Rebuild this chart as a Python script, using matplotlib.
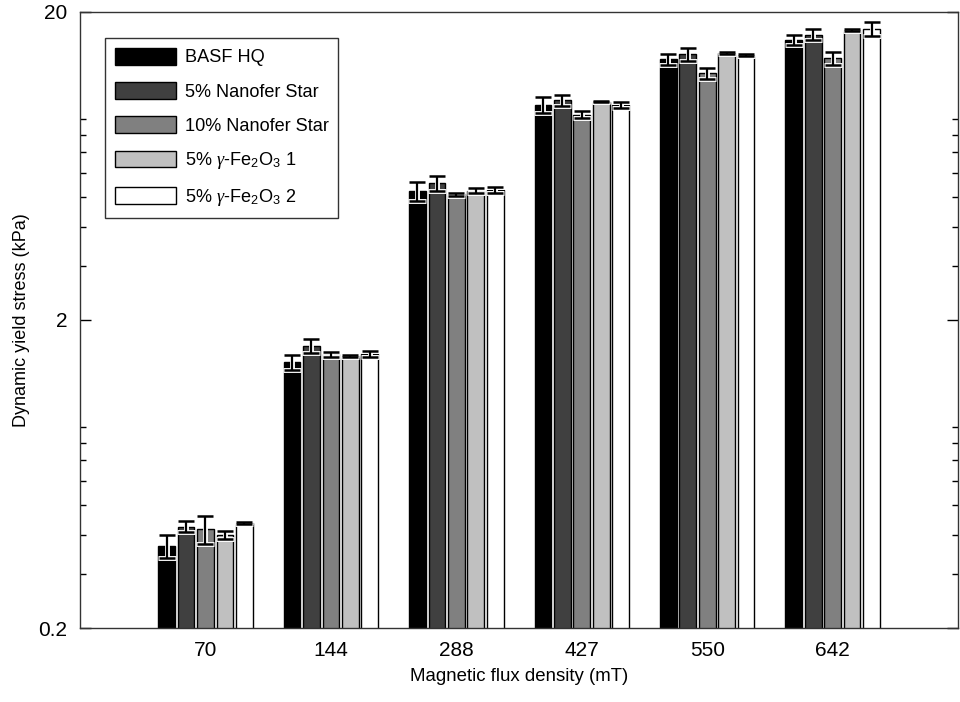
import numpy as np
import matplotlib
matplotlib.use('Agg')
import matplotlib.pyplot as plt
from matplotlib.ticker import LogLocator, FixedLocator, NullFormatter

plt.rcParams['font.family'] = ['Liberation Sans', 'DejaVu Sans']
plt.rcParams['mathtext.fontset'] = 'custom'
plt.rcParams['mathtext.rm'] = 'Liberation Sans'
plt.rcParams['mathtext.it'] = 'Liberation Serif:italic'

# data
flux = ['70', '144', '288', '427', '550', '642']
labels = ['BASF HQ', '5% Nanofer Star', '10% Nanofer Star',
          r'5% $\gamma$-Fe$_2$O$_3$ 1', r'5% $\gamma$-Fe$_2$O$_3$ 2']

basf = [0.37, 1.46, 5.24, 9.99, 14.04, 16.23]
nano5 = [0.427, 1.65, 5.56, 10.32, 14.59, 16.88]
nano10 = [0.419, 1.55, 5.11, 9.28, 12.63, 14.18]
gam1 = [0.402, 1.53, 5.25, 10.23, 14.68, 17.48]
gam2 = [0.4375, 1.546, 5.30, 9.95, 14.5, 17.64]

basf_err = [0.032, 0.085, 0.36, 0.58, 0.54, 0.61]
nano5_err = [0.018, 0.085, 0.31, 0.43, 0.72, 0.69]
nano10_err = [0.044, 0.03, 0.07, 0.26, 0.56, 0.68]
gam1_err = [0.012, 0.01, 0.10, 0.05, 0.10, 0.10]
gam2_err = [0.003, 0.035, 0.12, 0.23, 0.08, 0.97]

series = [basf, nano5, nano10, gam1, gam2]
errs = [basf_err, nano5_err, nano10_err, gam1_err, gam2_err]
colors = ['#000000', '#404040', '#808080', '#c0c0c0', '#ffffff']

fig = plt.figure(figsize=(9.6, 7.02), dpi=100)
ax = fig.add_axes([0.0833, 0.1054, 0.9147, 0.8776])

x = np.arange(1, len(flux) + 1)
pitch = 0.155
width = 0.133
for i, (vals, err, c, lab) in enumerate(zip(series, errs, colors, labels)):
    pos = x + (i - 2) * pitch
    ax.bar(pos, vals, width=width, color=c, edgecolor='black', linewidth=1.0,
           label=lab, zorder=2)
    # white halo under the black error bars
    ax.errorbar(pos, vals, yerr=err, fmt='none', ecolor='white', elinewidth=3.5,
                capsize=6.5, capthick=3.5, zorder=3)
    ax.errorbar(pos, vals, yerr=err, fmt='none', ecolor='black', elinewidth=1.6,
                capsize=5.8, capthick=1.8, zorder=4)

ax.set_yscale('log')
ax.set_ylim(0.2, 20)
ax.set_xlim(0, 7)
ax.yaxis.set_major_locator(FixedLocator([0.2, 2, 20]))
ax.set_yticklabels(['0.2', '2', '20'])
ax.yaxis.set_minor_locator(LogLocator(base=10, subs=np.arange(2, 10)))
ax.yaxis.set_minor_formatter(NullFormatter())
ax.set_xticks(x)
ax.set_xticklabels(flux)

ax.tick_params(axis='y', which='major', direction='in', length=8, width=1,
               right=True, labelsize=15, pad=9)
ax.tick_params(axis='y', which='minor', direction='in', length=4, width=1, right=True)
ax.tick_params(axis='x', length=0, labelsize=15, pad=9)
for s in ax.spines.values():
    s.set_color('#333333')
    s.set_linewidth(1.0)

ax.set_xlabel('Magnetic flux density (mT)', fontsize=13.4, labelpad=6)
ax.set_ylabel('Dynamic yield stress (kPa)', fontsize=13, labelpad=6)

leg = ax.legend(loc='upper left', bbox_to_anchor=(0.028, 0.958), borderaxespad=0,
                fontsize=13.1, handlelength=3.4, handleheight=1.05, labelspacing=0.85,
                handletextpad=0.45, borderpad=0.55, fancybox=False, framealpha=1)
leg.get_frame().set_edgecolor('#333333')
leg.get_frame().set_linewidth(1.0)

fig.savefig('out.png', dpi=100)
